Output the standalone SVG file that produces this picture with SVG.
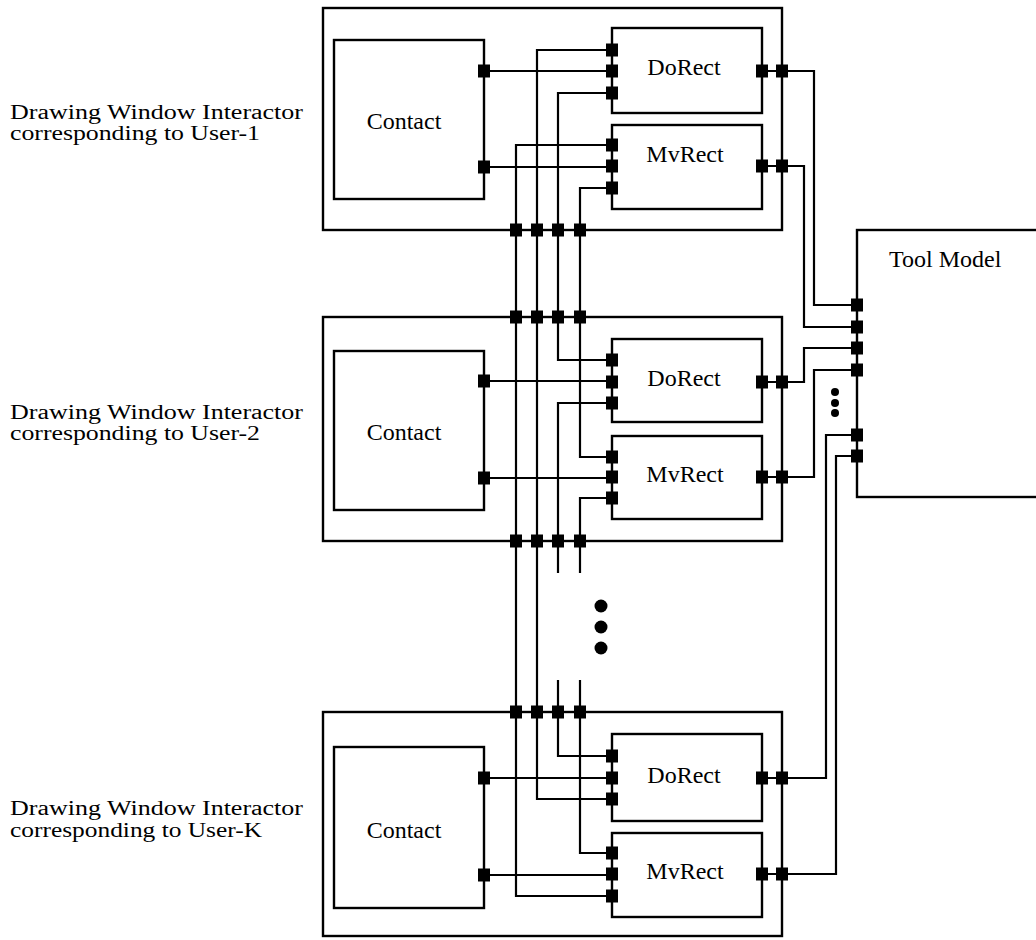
<svg xmlns="http://www.w3.org/2000/svg" xmlns:xlink="http://www.w3.org/1999/xlink" width="1036" height="940" viewBox="0 0 1036 940">
<style>
.box{fill:none;stroke:#000;stroke-width:2.4}
.w{fill:#fff;stroke:#000;stroke-width:2.4}
.ln{fill:none;stroke:#000;stroke-width:2.2}
text{font-family:"Liberation Serif","Times New Roman",serif;font-size:24px;fill:#000}
.lbl{font-size:20px}
.c{text-anchor:middle}
</style>
<defs>
<rect id="p" x="-6" y="-6.5" width="12" height="13" fill="#000"/>
</defs>
<rect width="1036" height="940" fill="#fff"/>

<g id="connectors">
<path class="ln" d="M484,71H612M484,167H612"/>
<path class="ln" d="M484,381H612M484,478H612"/>
<path class="ln" d="M484,778H612M484,875H612"/>
<path class="ln" d="M612,50H537V799H612"/>
<path class="ln" d="M612,145H516V896H612"/>
<path class="ln" d="M612,93H558V360H612"/>
<path class="ln" d="M612,403H558V573"/>
<path class="ln" d="M558,680V756H612"/>
<path class="ln" d="M612,188H580V457H612"/>
<path class="ln" d="M612,498H580V573"/>
<path class="ln" d="M580,680V853H612"/>
<path class="ln" d="M762,71H782M762,166H782M762,382H782M762,477H782M762,778H782M762,874H782"/>
<path class="ln" d="M782,71H814V305H857"/>
<path class="ln" d="M782,166H804V327H857"/>
<path class="ln" d="M782,382H804V348H857"/>
<path class="ln" d="M782,477H814V370H857"/>
<path class="ln" d="M782,778H826V435H857"/>
<path class="ln" d="M782,874H836V456H857"/>
<circle cx="601" cy="606" r="6.5"/>
<circle cx="601" cy="627" r="6.5"/>
<circle cx="601" cy="648" r="6.5"/>
<circle cx="835" cy="392" r="4"/>
<circle cx="835" cy="403" r="4"/>
<circle cx="835" cy="413" r="4"/>
</g>

<g id="interactor-1">
<rect class="box" x="323" y="8" width="459" height="222"/>
<text class="lbl" x="10" y="119" textLength="293" lengthAdjust="spacingAndGlyphs">Drawing Window Interactor</text>
<text class="lbl" x="10" y="140" textLength="250" lengthAdjust="spacingAndGlyphs">corresponding to User-1</text>
<use href="#p" x="516" y="230"/><use href="#p" x="537" y="230"/><use href="#p" x="558" y="230"/><use href="#p" x="580" y="230"/>
<use href="#p" x="782" y="71"/><use href="#p" x="782" y="166"/>
</g>
<g id="contact-1">
<rect class="w" x="334" y="40" width="150" height="159"/>
<text class="c" x="404" y="129">Contact</text>
<use href="#p" x="484" y="71"/><use href="#p" x="484" y="167"/>
</g>
<g id="dorect-1">
<rect class="box" x="612" y="28" width="150" height="85"/>
<text class="c" x="684" y="75">DoRect</text>
<use href="#p" x="612" y="50"/><use href="#p" x="612" y="71"/><use href="#p" x="612" y="93"/><use href="#p" x="762" y="71"/>
</g>
<g id="mvrect-1">
<rect class="box" x="612" y="125" width="150" height="84"/>
<text class="c" x="685" y="162">MvRect</text>
<use href="#p" x="612" y="145"/><use href="#p" x="612" y="166"/><use href="#p" x="612" y="188"/><use href="#p" x="762" y="166"/>
</g>

<g id="interactor-2">
<rect class="box" x="323" y="317" width="459" height="224"/>
<text class="lbl" x="10" y="419" textLength="293" lengthAdjust="spacingAndGlyphs">Drawing Window Interactor</text>
<text class="lbl" x="10" y="440" textLength="250" lengthAdjust="spacingAndGlyphs">corresponding to User-2</text>
<use href="#p" x="516" y="317"/><use href="#p" x="537" y="317"/><use href="#p" x="558" y="317"/><use href="#p" x="580" y="317"/>
<use href="#p" x="516" y="541"/><use href="#p" x="537" y="541"/><use href="#p" x="558" y="541"/><use href="#p" x="580" y="541"/>
<use href="#p" x="782" y="382"/><use href="#p" x="782" y="477"/>
</g>
<g id="contact-2">
<rect class="w" x="334" y="351" width="150" height="159"/>
<text class="c" x="404" y="440">Contact</text>
<use href="#p" x="484" y="381"/><use href="#p" x="484" y="478"/>
</g>
<g id="dorect-2">
<rect class="box" x="612" y="339" width="150" height="83"/>
<text class="c" x="684" y="386">DoRect</text>
<use href="#p" x="612" y="360"/><use href="#p" x="612" y="382"/><use href="#p" x="612" y="403"/><use href="#p" x="762" y="382"/>
</g>
<g id="mvrect-2">
<rect class="box" x="612" y="436" width="150" height="83"/>
<text class="c" x="685" y="482">MvRect</text>
<use href="#p" x="612" y="457"/><use href="#p" x="612" y="477"/><use href="#p" x="612" y="498"/><use href="#p" x="762" y="477"/>
</g>

<g id="interactor-k">
<rect class="box" x="323" y="712" width="459" height="224"/>
<text class="lbl" x="10" y="815" textLength="293" lengthAdjust="spacingAndGlyphs">Drawing Window Interactor</text>
<text class="lbl" x="10" y="837" textLength="252" lengthAdjust="spacingAndGlyphs">corresponding to User-K</text>
<use href="#p" x="516" y="712"/><use href="#p" x="537" y="712"/><use href="#p" x="558" y="712"/><use href="#p" x="580" y="712"/>
<use href="#p" x="782" y="778"/><use href="#p" x="782" y="874"/>
</g>
<g id="contact-k">
<rect class="w" x="334" y="747" width="150" height="161"/>
<text class="c" x="404" y="838">Contact</text>
<use href="#p" x="484" y="778"/><use href="#p" x="484" y="875"/>
</g>
<g id="dorect-k">
<rect class="box" x="612" y="734" width="150" height="87"/>
<text class="c" x="684" y="783">DoRect</text>
<use href="#p" x="612" y="756"/><use href="#p" x="612" y="778"/><use href="#p" x="612" y="799"/><use href="#p" x="762" y="778"/>
</g>
<g id="mvrect-k">
<rect class="box" x="612" y="833" width="150" height="84"/>
<text class="c" x="685" y="879">MvRect</text>
<use href="#p" x="612" y="853"/><use href="#p" x="612" y="874"/><use href="#p" x="612" y="896"/><use href="#p" x="762" y="874"/>
</g>

<g id="tool-model">
<rect class="box" x="857" y="230" width="200" height="267"/>
<text x="889" y="267">Tool Model</text>
<use href="#p" x="857" y="305"/><use href="#p" x="857" y="327"/><use href="#p" x="857" y="348"/><use href="#p" x="857" y="370"/>
<use href="#p" x="857" y="435"/><use href="#p" x="857" y="456"/>
</g>
</svg>
